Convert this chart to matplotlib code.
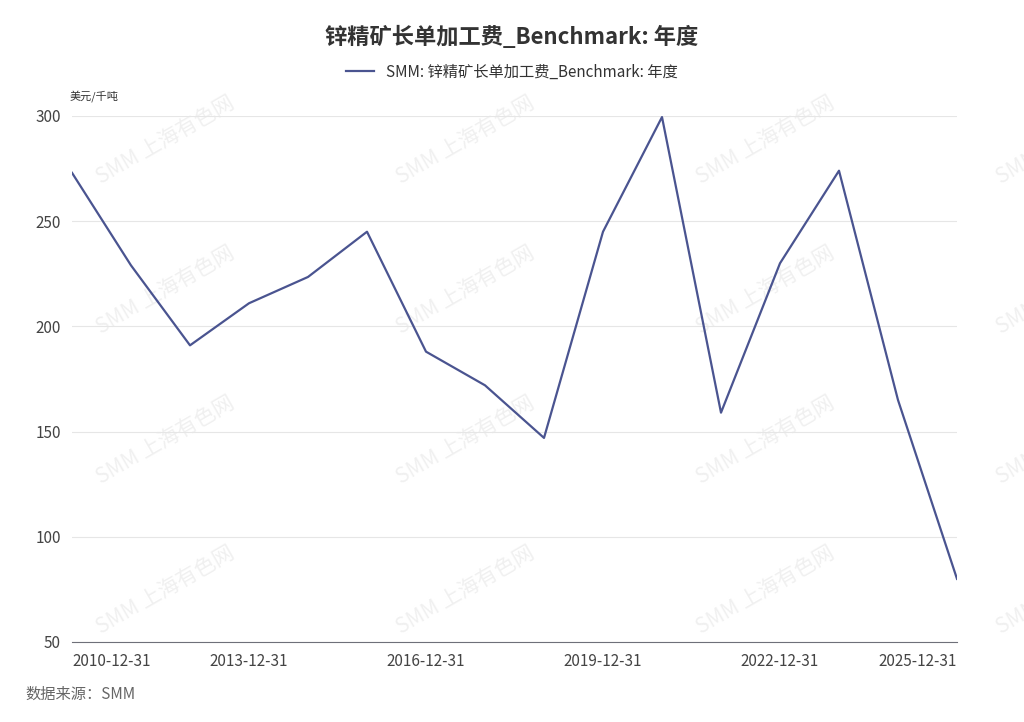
import matplotlib.pyplot as plt

plt.rcParams['font.family'] = ['Noto Sans CJK SC', 'DejaVu Sans']

years = list(range(2010, 2026))
values = [273, 229, 191, 211, 223.5, 245, 188, 172, 147, 245, 299.5, 159, 230, 274, 165, 80]
tick_years = [2010, 2013, 2016, 2019, 2022, 2025]

fig = plt.figure(figsize=(10.24, 7.22), dpi=100)
ax = fig.add_axes([72/1024, 1-642/722, 885/1024, 526/722])

# watermarks
for wx in [165, 465, 765, 1065]:
    for wy in [140, 290, 440, 590]:
        ax.text(wx/1024, 1-wy/722, 'SMM 上海有色网', fontsize=15, color='#f0f0f0',
                rotation=30, ha='center', va='center', zorder=0,
                transform=fig.transFigure, clip_on=False)

line_color = '#4a5490'
ax.plot(years, values, color=line_color, lw=1.6, zorder=3,
        label='SMM: 锌精矿长单加工费_Benchmark: 年度')
ax.set_xlim(2010, 2025)
ax.set_ylim(50, 300)
ax.set_yticks([50, 100, 150, 200, 250, 300])
ax.set_xticks(tick_years)
ax.set_xticklabels([str(y) + '-12-31' for y in tick_years])
xl = ax.get_xticklabels()
xl[0].set_ha('left')
xl[-1].set_ha('right')
ax.grid(axis='y', color='#e6e6e6', lw=0.8)
ax.set_axisbelow(True)
for s in ['top', 'right', 'left']:
    ax.spines[s].set_visible(False)
ax.spines['bottom'].set_color('#6e7079')
ax.tick_params(axis='both', length=0, labelsize=11, colors='#444444')
ax.tick_params(axis='x', pad=8)
ax.tick_params(axis='y', pad=8)
ax.patch.set_alpha(0)

fig.text(0.5, 0.948, '锌精矿长单加工费_Benchmark: 年度', ha='center', va='center',
         fontsize=16, fontweight='bold', color='#333333')
fig.legend(loc='center', bbox_to_anchor=(0.5, 0.9), frameon=False, fontsize=11,
           handlelength=1.8, labelcolor='#333333')
fig.text(70/1024, 1-96/722, '美元/千吨', fontsize=8, color='#333333', va='center')
fig.text(25/1024, 1-694/722, '数据来源：SMM', fontsize=11, color='#666666', style='italic', va='center')

fig.savefig('out.png', dpi=100)
